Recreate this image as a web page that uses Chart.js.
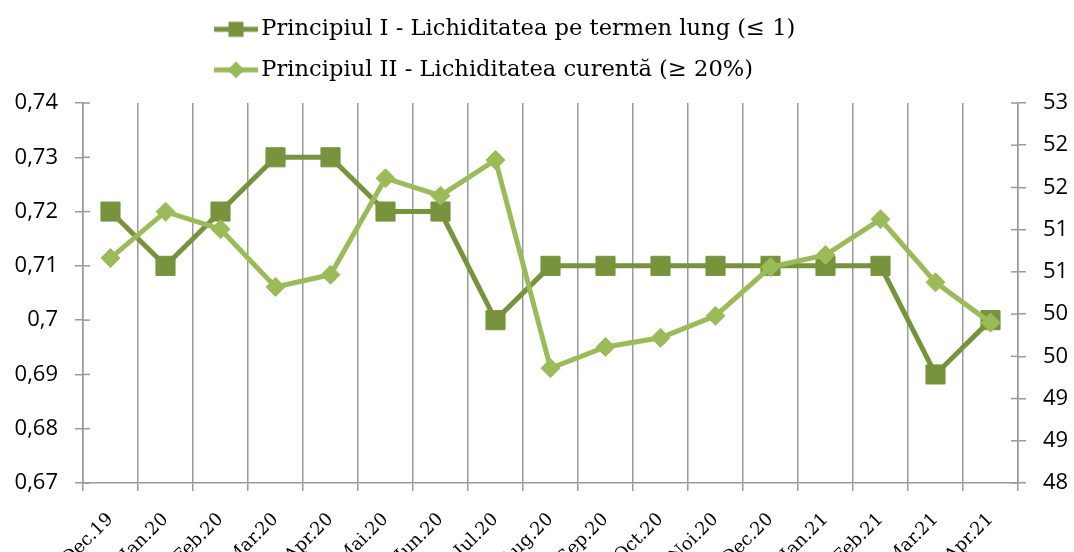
<!DOCTYPE html>
<html>
<head>
<meta charset="utf-8">
<script src="https://cdn.jsdelivr.net/npm/chart.js@4"></script>
<style>
  html, body { margin: 0; padding: 0; background: #fff; }
</style>
</head>
<body>
<canvas id="chart" width="1074" height="552"></canvas>
<script>
// categories and values
const months = ['Dec.19', 'Ian.20', 'Feb.20', 'Mar.20', 'Apr.20', 'Mai.20', 'Iun.20', 'Iul.20', 'Aug.20',
  'Sep.20', 'Oct.20', 'Noi.20', 'Dec.20', 'Ian.21', 'Feb.21', 'Mar.21', 'Apr.21'];
const principiulI = [0.72, 0.71, 0.72, 0.73, 0.73, 0.72, 0.72, 0.70, 0.71,
  0.71, 0.71, 0.71, 0.71, 0.71, 0.71, 0.69, 0.70];
const principiulII = [50.96, 51.57, 51.34, 50.58, 50.74, 52.01, 51.78, 52.25, 49.51,
  49.79, 49.91, 50.20, 50.84, 51.00, 51.47, 50.64, 50.11];
const seriesNames = ['Principiul I - Lichiditatea pe termen lung (\u2264 1)',
  'Principiul II - Lichiditatea curent\u0103 (\u2265 20%)'];

// axis ticks
const leftTicks = [0.67, 0.68, 0.69, 0.70, 0.71, 0.72, 0.73, 0.74];
const rightMin = 48, rightMax = 53, rightCount = 10;
const rightTicks = [];
for (let i = 0; i < rightCount; i++) rightTicks.push(rightMin + i * (rightMax - rightMin) / (rightCount - 1));

const darkGreen = '#77933C';
const lightGreen = '#9BBB59';
const gridGray = '#9a9a9a';

// little line+marker picture for the legend
function legendIcon(color, shape) {
  const c = document.createElement('canvas');
  c.width = 46; c.height = 20;
  const g = c.getContext('2d');
  g.strokeStyle = color;
  g.fillStyle = color;
  g.lineWidth = 5;
  g.beginPath(); g.moveTo(1, 10); g.lineTo(45, 10); g.stroke();
  if (shape === 'rect') {
    g.fillRect(15.5, 2.5, 15, 15);
  } else {
    g.beginPath();
    g.moveTo(23, 1.5); g.lineTo(31.5, 10); g.lineTo(23, 18.5); g.lineTo(14.5, 10);
    g.closePath(); g.fill();
  }
  return c;
}
const icons = [legendIcon(darkGreen, 'rect'), legendIcon(lightGreen, 'diamond')];

// legend sits left-aligned at x=222, two rows, and takes 103px of height
const legendLayout = {
  id: 'legendLayout',
  beforeLayout(chart) {
    const lg = chart.legend;
    if (lg && !lg._patched) {
      const fit = lg.fit;
      lg.fit = function () { fit.call(this); this.height = 103; };
      lg._patched = true;
    }
  },
  afterLayout(chart) {
    chart.legend.left = 204;
    chart.legend.right = 870;
  }
};

// value axes: tick marks cross the axis line (inner half)
const innerTicks = {
  id: 'innerTicks',
  afterDatasetsDraw(chart) {
    const ctx = chart.ctx;
    ctx.save();
    ctx.strokeStyle = gridGray;
    ctx.lineWidth = 1.5;
    ['y', 'y1'].forEach(id => {
      const s = chart.scales[id];
      const x = id === 'y' ? s.right : s.left;
      const dir = id === 'y' ? 1 : -1;
      s.ticks.forEach((t, i) => {
        const py = s.getPixelForTick(i);
        ctx.beginPath();
        ctx.moveTo(x, py);
        ctx.lineTo(x + dir * 7, py);
        ctx.stroke();
      });
    });
    ctx.restore();
  }
};

const serif = 'DejaVu Serif';
const sans = 'Open Sans';

new Chart(document.getElementById('chart'), {
  type: 'line',
  data: {
    labels: months,
    datasets: [{
      label: seriesNames[0],
      data: principiulI,
      yAxisID: 'y',
      borderColor: darkGreen,
      backgroundColor: darkGreen,
      borderWidth: 5,
      pointStyle: 'rect',
      pointRadius: 13.5,
      pointBorderWidth: 1,
      pointHoverRadius: 13.5,
      tension: 0,
      order: 1
    }, {
      label: seriesNames[1],
      data: principiulII,
      yAxisID: 'y1',
      borderColor: lightGreen,
      backgroundColor: lightGreen,
      borderWidth: 5,
      pointStyle: 'rectRot',
      pointRadius: 9.5,
      pointBorderWidth: 1,
      pointHoverRadius: 9.5,
      tension: 0,
      order: 0
    }]
  },
  options: {
    responsive: false,
    animation: false,
    devicePixelRatio: 1,
    layout: { padding: 0 },
    plugins: {
      tooltip: { enabled: false },
      legend: {
        position: 'top',
        align: 'start',
        labels: {
          usePointStyle: true,
          pointStyleWidth: 28,
          padding: 18,
          color: '#000',
          font: { family: serif, size: 22.6 },
          sort: (a, b) => a.datasetIndex - b.datasetIndex,
          generateLabels(chart) {
            const items = Chart.defaults.plugins.legend.labels.generateLabels(chart);
            items.forEach(it => { it.pointStyle = icons[it.datasetIndex]; });
            return items;
          }
        }
      }
    },
    scales: {
      x: {
        offset: true,
        grid: { offset: true, color: gridGray, lineWidth: 1.5, tickLength: 8 },
        border: { color: gridGray, width: 1.5 },
        ticks: {
          color: '#000',
          font: { family: serif, size: 18 },
          minRotation: 45,
          maxRotation: 45,
          autoSkip: false,
          padding: 18
        },
        afterFit(scale) { scale.height = 69; }
      },
      y: {
        position: 'left',
        min: 0.67,
        max: 0.74,
        grid: { drawOnChartArea: false, color: gridGray, lineWidth: 1.5, tickLength: 8 },
        border: { color: gridGray, width: 1.5 },
        ticks: {
          color: '#000',
          font: { family: sans, size: 22 },
          padding: 17,
          callback: v => String(Number(v.toFixed(2))).replace('.', ',')
        },
        afterBuildTicks(scale) { scale.ticks = leftTicks.map(v => ({ value: v })); },
        afterFit(scale) { scale.width = 83; }
      },
      y1: {
        position: 'right',
        min: rightMin,
        max: rightMax,
        grid: { drawOnChartArea: false, color: gridGray, lineWidth: 1.5, tickLength: 8 },
        border: { color: gridGray, width: 1.5 },
        ticks: {
          color: '#000',
          font: { family: sans, size: 22 },
          padding: 17,
          callback: v => String(Math.round(v))
        },
        afterBuildTicks(scale) { scale.ticks = rightTicks.map(v => ({ value: v })); },
        afterFit(scale) { scale.width = 56; }
      }
    }
  },
  plugins: [legendLayout, innerTicks]
});
</script>
</body>
</html>
